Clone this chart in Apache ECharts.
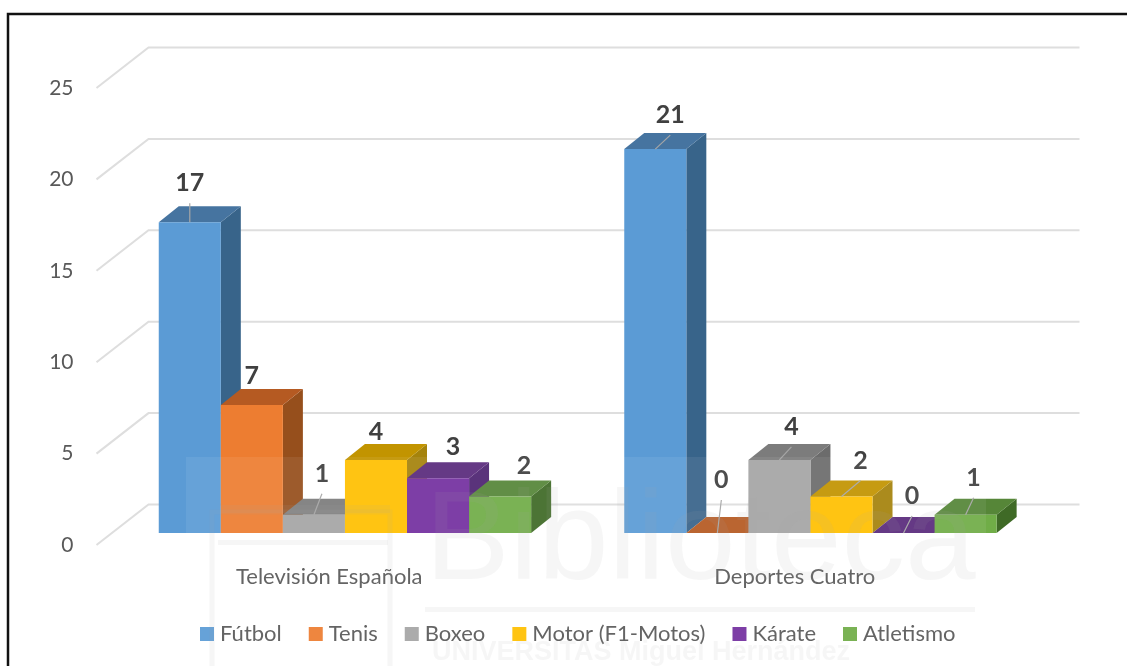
<!DOCTYPE html>
<html><head><meta charset="utf-8">
<style>html,body{margin:0;padding:0;background:#fff;overflow:hidden}#chart{width:1127px;height:666px;filter:blur(0.6px)}</style>
<script src="https://cdn.jsdelivr.net/npm/echarts@6/dist/echarts.min.js"></script>
</head><body><div id="chart"></div>
<script>
const categories = ['Televisión Española', 'Deportes Cuatro'];
const seriesNames = ['Fútbol', 'Tenis', 'Boxeo', 'Motor (F1-Motos)', 'Kárate', 'Atletismo'];
const futbol = [17, 21];
const tenis = [7, 0];
const boxeo = [1, 4];
const motor = [4, 2];
const karate = [3, 0];
const atletismo = [2, 1];
const seriesValues = [futbol, tenis, boxeo, motor, karate, atletismo];
const yTicks = [0, 5, 10, 15, 20, 25];

const faceColors = ['#5B9BD5', '#ED7D31', '#A5A5A5', '#FFC000', '#7430A0', '#70AD47'];
const topColors = ['#4674A0', '#B55A22', '#7C7C7C', '#C29400', '#5A2A7C', '#568638'];
const sideColors = ['#38648A', '#964F1C', '#6C6C6C', '#A5830C', '#4E2472', '#3F6A26'];
// label displacement from each bar's top-front centre: [dx, dy] per category
const labelNudges = [
  [[0, -39], [15, -34]], [[0, -29], [4, -53]], [[8, -41], [12, -33]],
  [[0, -28], [19, -36]], [[15, -31], [8.5, -37]], [[24, -31], [8, -37]]
];
const FONT = 'Lato, "Open Sans", sans-serif';
const BAR_PLANE = [15.7, -12], BAR_DEPTH = [20, -16], BACK = [52, -40.5];
const GROUP_SHARE = 0.8;

function poly(points, fill) {
  return { type: 'polygon', shape: { points }, style: { fill }, silent: true };
}
function wallItem(params, api) {
  const c = params.coordSys;
  const y = api.coord([0, api.value(0)])[1];
  const x0 = c.x;
  return {
    type: 'polyline',
    shape: { points: [[x0, y], [x0 + BACK[0], y + BACK[1]], [x0 + c.width + BACK[0], y + BACK[1]]] },
    style: { fill: null, stroke: '#dedede', lineWidth: 2 },
    silent: true
  };
}
function barItem(s) {
  return function (params, api) {
    const cat = api.value(0), val = api.value(1);
    const band = api.size([1, 0])[0];
    const w = band * GROUP_SHARE / seriesNames.length;
    const center = api.coord([cat, 0])[0] + BAR_PLANE[0];
    const xL = center - band * GROUP_SHARE / 2 + s * w, xR = xL + w;
    const yB = api.coord([cat, 0])[1] + BAR_PLANE[1];
    const yT = api.coord([cat, val])[1] + BAR_PLANE[1];
    const dx = BAR_DEPTH[0], dy = BAR_DEPTH[1];
    const mid = (xL + xR) / 2;
    const n = labelNudges[s][cat];
    const lx = mid + n[0], ly = yT + n[1];
    const children = [
      poly([[xR, yB], [xR + dx, yB + dy], [xR + dx, yT + dy], [xR, yT]], sideColors[s]),
      poly([[xL, yT], [xL + dx, yT + dy], [xR + dx, yT + dy], [xR, yT]], topColors[s])
    ];
    if (val > 0) children.push({ type: 'rect', shape: { x: xL, y: yT, width: w, height: yB - yT }, style: { fill: faceColors[s] }, silent: true });
    if (yT - (ly + 20) > 12.5) children.push({
      type: 'line', shape: { x1: lx, y1: ly + 20, x2: mid, y2: yT },
      style: { stroke: '#a6a6a6', lineWidth: 1.2 }, silent: true
    });
    children.push({
      type: 'text', x: lx, y: ly,
      style: { text: String(val), fill: '#404040', font: 'bold 25px ' + FONT, align: 'center', verticalAlign: 'middle' },
      silent: true
    });
    return { type: 'group', children };
  };
}

const barSeries = seriesNames.map((name, s) => ({
  name, type: 'custom', coordinateSystem: 'cartesian2d',
  itemStyle: { color: faceColors[s] },
  encode: { x: 0, y: 1 },
  data: categories.map((_, c) => [c, seriesValues[s][c]]),
  renderItem: barItem(s), clip: false
}));

const wmGray = 'rgba(170,170,170,0.10)';
const wmLine = { fill: null, stroke: wmGray, lineWidth: 5 };
const option = {
  animation: false,
  backgroundColor: '#fff',
  grid: { left: 96.5, width: 931, top: 88, height: 457 },
  xAxis: {
    type: 'category', data: categories,
    axisLine: { show: false }, axisTick: { show: false }, splitLine: { show: false },
    axisLabel: { color: '#595959', fontFamily: FONT, fontSize: 22, margin: 21 }
  },
  yAxis: {
    type: 'value', min: 0, max: 25, interval: 5,
    axisLine: { show: false }, axisTick: { show: false }, splitLine: { show: false },
    axisLabel: { color: '#595959', fontFamily: FONT, fontSize: 21, margin: 23 }
  },
  legend: {
    data: seriesNames, left: 195, top: 618, icon: 'rect', itemWidth: 14, itemHeight: 14, itemGap: 27,
    textStyle: { color: '#595959', fontFamily: FONT, fontSize: 22, padding: [0, 0, 0, 1] }
  },
  series: [{
    type: 'custom', name: 'walls', coordinateSystem: 'cartesian2d', encode: { y: 0 },
    data: yTicks.map(v => [v]), renderItem: wallItem, clip: false, silent: true
  }].concat(barSeries),
  graphic: [
    { type: 'rect', z: 20, silent: true, shape: { x: 186, y: 457, width: 800, height: 209 }, style: { fill: 'rgba(255,255,255,0.07)' } },
    { type: 'rect', z: 21, silent: true, shape: { x: 212, y: 512, width: 178, height: 170 }, style: wmLine },
    { type: 'rect', z: 21, silent: true, shape: { x: 220, y: 505, width: 170, height: 8 }, style: { fill: wmGray } },
    { type: 'rect', z: 21, silent: true, shape: { x: 218, y: 540, width: 170, height: 5 }, style: { fill: wmGray } },
    { type: 'text', z: 21, silent: true, style: { x: 425, y: 480, text: 'Biblioteca', font: '127px "Liberation Sans", sans-serif', fill: wmGray } },
    { type: 'rect', z: 21, silent: true, shape: { x: 425, y: 607, width: 550, height: 5 }, style: { fill: wmGray } },
    { type: 'text', z: 21, silent: true, style: { x: 432, y: 639, text: 'UNIVERSITAS Miguel Hernández', font: 'bold 27px "Liberation Sans", sans-serif', fill: wmGray } },
    { type: 'rect', z: 30, silent: true, shape: { x: 8, y: 14, width: 1300, height: 900 }, style: { fill: null, stroke: '#111', lineWidth: 2.5 } }
  ]
};
echarts.init(document.getElementById('chart'), null, { renderer: 'canvas' }).setOption(option);
</script></body></html>
